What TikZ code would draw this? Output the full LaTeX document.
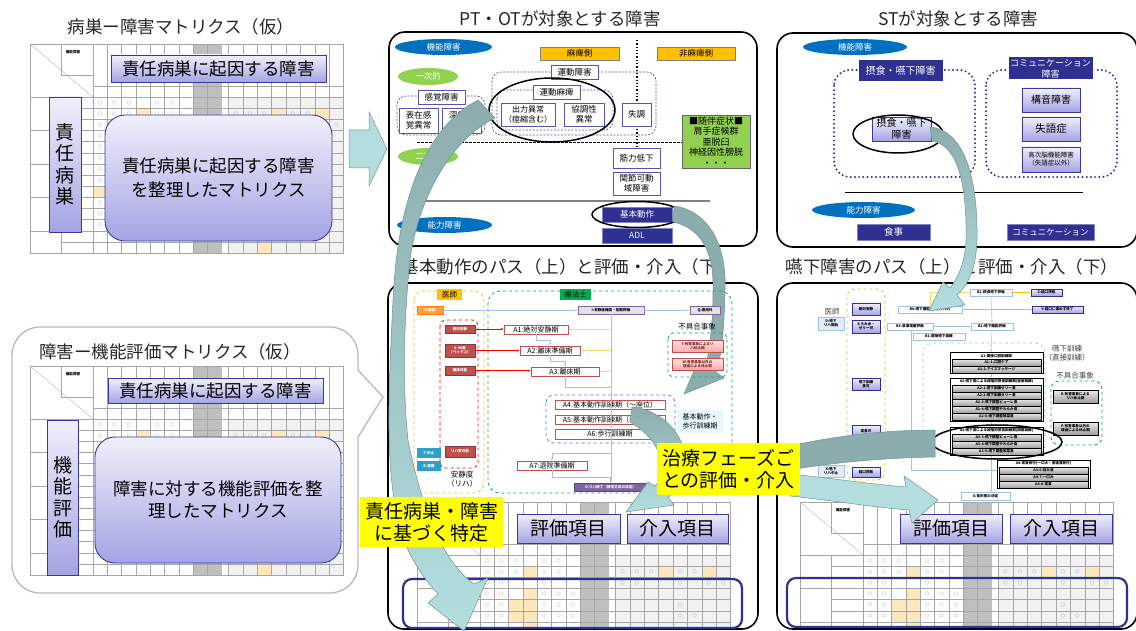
\documentclass[tikz,border=0pt]{standalone}
\usepackage{fontspec}
\setmainfont{Noto Sans CJK JP}
\usetikzlibrary{shapes.geometric,arrows.meta,calc}
\definecolor{navy}{HTML}{2E3192}
\definecolor{lavA}{HTML}{F0F0FC}
\definecolor{lavB}{HTML}{A4A4E4}
\definecolor{lavD}{HTML}{3A3A94}
\definecolor{tealA}{HTML}{B4DEDE}
\definecolor{tealB}{HTML}{8CADAD}
\definecolor{tealE}{HTML}{6F9494}
\definecolor{blueE}{HTML}{0070C0}
\definecolor{greenE}{HTML}{92D050}
\definecolor{orng}{HTML}{FFC000}
\definecolor{ylw}{HTML}{FFFF00}
\definecolor{dblue}{HTML}{5555AA}
\definecolor{lblue}{HTML}{9DC3E6}
\definecolor{redb}{HTML}{C0504D}
\definecolor{purp}{HTML}{8064A2}
\definecolor{cyanb}{HTML}{31A0C8}
\definecolor{pale}{HTML}{FCE8BC}
\definecolor{grn}{HTML}{00B050}
\newcommand\bxx[7]{\node[#1,minimum width={(#5-#3)*1pt},minimum height={(#6-#4)*1pt},inner sep=0pt] (#2) at ({(#3+#5)/2},{(#4+#6)/2}) {#7};}
\tikzset{
 fs/.style 2 args={font=\fontsize{#1}{#2}\selectfont},
 tinyt/.style={font=\fontsize{3.6}{4.2}\selectfont\bfseries},
 lavbox/.style={draw=lavD, line width=0.9pt, top color=lavA, bottom color=lavB, align=center},
 ttl/.style={fs={17.5}{20}, text=black!85},
 wbox/.style={draw=dblue, fill=white, line width=0.7pt, align=center, fs={8.5}{10}},
 ellb/.style={ellipse, fill=blueE, text=white, fs={8.5}{10}},
 ellg/.style={ellipse, fill=greenE, text=white, fs={8.5}{10}},
 navbox/.style={fill=navy, draw=navy!60, text=white, align=center, fs={8.5}{10}},
 orbox/.style={fill=orng, draw=black!50, fs={8.5}{10}},
 ring/.style={draw=black, line width=1.5pt},
 panel/.style={draw=black, line width=1.6pt, rounded corners=16},
 dgrp/.style={draw=dblue, line width=0.7pt, rounded corners=9, dash pattern=on 2pt off 1.5pt},
 dotgrp/.style={draw=navy, line width=2.2pt, dash pattern=on 0pt off 4.2pt, line cap=round, rounded corners=16},
 band/.style={draw=tealE, line width=0.5pt},
 ylab/.style={fill=ylw, align=center, fs={19}{22}},
 rbox/.style={fill=redb, draw=redb!70!black, text=white, tinyt, align=center},
 cbox/.style={fill=cyanb, text=white, tinyt},
 abox/.style={fill=white, draw=redb, line width=0.8pt, fs={7}{8}},
 ybox/.style={top color=red!10, bottom color=red!35, draw=redb, line width=0.6pt, tinyt, text=redb!60!black, align=center},
 pbox/.style={fill=purp!20, draw=purp, tinyt, line width=0.5pt},
 dbox/.style={top color=lavA, bottom color=lavB, draw=navy, line width=0.6pt, tinyt, align=center},
 wlb/.style={fill=white, draw=lblue, line width=0.5pt, tinyt, align=center},
 gbar/.style={top color=black!8, bottom color=black!38, draw=black, line width=0.5pt, tinyt},
 ghdr/.style={fill=white, tinyt},
 lbb/.style={fill=lblue!30, draw=lblue, tinyt, align=center},
 gl/.style={gray!70, line width=0.3pt},
 cn/.style={lblue, line width=0.5pt, -{Stealth[length=2.5pt]}},
}
% #1,#2 origin; #3 condition on \cc,\rr for circle marks; #4 = 1 to show header label
\newcommand\mtx[4]{%
\begin{scope}[shift={(#1,#2)}]
\fill[white] (0,0) rectangle (313.5,209);
\fill[black!5] (198.3,53) rectangle (313.5,209);
\foreach \cc/\rr in {3/1,12/1,15/1,0/8,2/4,2/5,3/3,3/4,3/5,3/6,11/13} {
  \pgfmathsetmacro\xl{\cc<9 ? 63+14.3*\cc : 198.3+14.4*(\cc-9)}
  \fill[pale] (\xl,{53+11.14*\rr}) rectangle ++(14.3,11.14);
}
\fill[black!25] (163.1,0) rectangle (191.7,209);
\draw[gl] (0,0) rectangle (313.5,209);
\draw[gl] (0,53) -- (313.5,53);
\draw[gl] (63,42) -- (313.5,42);
\draw[gl] (0,0) -- (63,53);
\draw[gl] (31,0) -- (31,31) -- (63,31);
\draw[gl] (31,53) -- (31,209);
\foreach \k in {0,...,8} {\draw[gl] ({63+14.3*\k},0) -- ({63+14.3*\k},209);}
\foreach \k in {0,...,8} {\draw[gl] ({198.3+14.4*\k},0) -- ({198.3+14.4*\k},209);}
\foreach \rr in {1,...,13} {\draw[gl] (31,{53+11.14*\rr}) -- (313.5,{53+11.14*\rr});}
\foreach \rr in {3,6,9,12} {\draw[gl] (0,{53+11.14*\rr}) -- (31,{53+11.14*\rr});}
\ifnum#4=1 \node[tinyt] at (43,8) {機能障害};\fi
\foreach \cc/\rr in {0/0,1/0,2/0,4/0,5/0,0/1,1/1,2/1,4/1,5/1,9/1,10/1,11/1,13/1,14/1,0/2,1/2,4/2,9/2,10/2,13/2,15/2,16/2,0/3,1/3,4/3,5/3,6/3,0/4,1/4,4/4,5/4,6/4,13/4,0/5,1/5,4/5,5/5,6/5,13/5,14/5,0/6,1/6,2/6,4/6,5/6,0/7,1/7,2/7,4/7,9/7,1/8,2/8,4/8,0/9,1/9,2/9,0/10,1/10,2/10,0/11,1/11,2/13,11/12} {
  \pgfmathtruncatemacro\ok{(#3) ? 1 : 0}
  \ifnum\ok=1
  \pgfmathsetmacro\xc{\cc<9 ? 63+14.3*\cc+7.15 : 198.3+14.4*(\cc-9)+7.2}
  \node[font=\fontsize{4}{4}\selectfont, text=black!55, inner sep=0pt] at (\xc,{53+11.14*\rr+5.57}) {○};
  \fi
}
\end{scope}}
\begin{document}
\begin{tikzpicture}[x=1pt,y=-1pt]
\useasboundingbox (0,0) rectangle (1136,631);
\fill[white] (0,0) rectangle (1136,631);

% ===== left top =====
\node[ttl] (T1) at (181,27) {病巣ー障害マトリクス（仮）};
\mtx{30}{44}{\rr<2 || \cc==0 || \cc==16}{1}
\bxx{lavbox,fs={17.5}{20}}{L1}{111}{55}{326}{82}{責任病巣に起因する障害}
\bxx{lavbox,fs={19}{21.5}}{L2}{49}{97}{81}{232}{責\\任\\病\\巣}
\bxx{lavbox,rounded corners=20,fs={17.5}{24}}{L3}{105}{115}{332}{241}{責任病巣に起因する障害\\を整理したマトリクス}
\draw[fill=tealA, draw=tealE, line width=0.5pt] (349,130) -- (369,130) -- (369,112) -- (387,149) -- (369,186) -- (369,168) -- (349,168) -- cycle;

% ===== left bottom bubble =====
\draw[gray!55, line width=1.3pt, rounded corners=28] (358,370) -- (358,327) -- (12,327) -- (12,593) -- (358,593) -- (358,437);
\draw[gray!55, line width=1.3pt] (358,370) -- (383,397) -- (358,437);
\node[ttl] (T2) at (170,352) {障害ー機能評価マトリクス（仮）};
\mtx{30}{366}{\rr<2 || \cc==0 || \cc==16}{1}
\bxx{lavbox,fs={17.5}{20}}{M1}{108}{378}{323}{403}{責任病巣に起因する障害}
\bxx{lavbox,fs={19}{21.5}}{M2}{47}{420}{78}{575}{機\\能\\評\\価}
\bxx{lavbox,rounded corners=20,fs={17.5}{22}}{M3}{95}{437}{341}{563}{障害に対する機能評価を整\\理したマトリクス}

% ===== PT/OT panel =====
\node[ttl] (T3) at (560,19) {PT・OTが対象とする障害};
\draw[panel] (389,32) rectangle (757,246);
\bxx{ellb}{P1}{395}{39}{492}{55}{機能障害}
\bxx{orbox}{P2}{540}{47}{619}{60}{麻痺側}
\bxx{orbox}{P3}{657}{47}{735}{60}{非麻痺側}
\draw[line width=1.3pt, dotted] (637,40) -- (637,148);
\bxx{ellg}{P4}{398}{68}{458}{85}{一次的}
\draw[dgrp] (492,72) rectangle (656,135);
\bxx{wbox}{P5}{551}{65}{598}{79}{運動障害}
\draw[dgrp] (497,90) rectangle (613,130);
\bxx{wbox}{P6}{533}{85}{580}{99}{運動麻痺}
\bxx{wbox,fs={8}{10}}{P7}{501}{103}{555}{126}{出力異常\\（痙縮含む）}
\bxx{wbox}{P8}{564}{103}{604}{126}{協調性\\異常}
\bxx{wbox}{P9}{622}{103}{651}{126}{失調}
\draw[dgrp] (397,96) rectangle (485,135);
\bxx{wbox}{P10}{418}{90}{465}{104}{感覚障害}
\bxx{wbox}{P11}{399}{108}{438}{133}{表在感\\覚異常}
\bxx{wbox}{P12}{442}{108}{481}{133}{深部感\\覚異常}
\draw[ring] (552,110) ellipse [x radius=63, y radius=32];
\draw[dash pattern=on 2.5pt off 1.5pt, line width=0.8pt] (417,142) -- (682,142);
\bxx{ellg}{P13}{398}{148}{458}{165}{二次的}
\bxx{wbox}{P14}{613}{148}{660}{168}{筋力低下}
\bxx{wbox}{P15}{613}{172}{660}{195}{関節可動\\域障害}
\bxx{fill=greenE, draw=black!60, line width=0.7pt, align=center, fs={9}{10.5}}{P16}{682}{115}{750}{168}{■随伴症状■\\肩手症候群\\亜脱臼\\神経因性膀胱\\・・・}
\draw[gray, line width=1.2pt] (415,201) -- (710,201);
\bxx{ellb}{P17}{397}{217}{492}{233}{能力障害}
\bxx{navbox}{P18}{602}{207}{672}{222}{基本動作}
\bxx{navbox}{P19}{602}{228}{672}{243}{ADL}
\draw[ring] (P18.center) ellipse [x radius=45, y radius=13];

% ===== ST panel =====
\node[ttl] (T4) at (958,19) {STが対象とする障害};
\draw[panel] (777,33) rectangle (1137,247);
\bxx{ellb}{S1}{803}{39}{907}{55}{機能障害}
\draw[dotgrp] (834,70) rectangle (975,177);
\draw[dotgrp] (986,70) rectangle (1117,177);
\bxx{navbox,fs={10}{12},draw=white,line width=1pt}{S2}{858}{60}{943}{82}{摂食・嚥下障害}
\bxx{lavbox,fs={10}{12},line width=0.7pt}{S3}{872}{117}{931}{141}{摂食・嚥下\\障害}
\draw[ring] (898,134) ellipse [x radius=45, y radius=19];
\bxx{navbox,fs={9}{11},draw=white,line width=1pt}{S4}{1008}{57}{1093}{80}{コミュニケーション\\障害}
\bxx{lavbox,fs={10}{12},line width=0.7pt}{S5}{1022}{88}{1080}{112}{構音障害}
\bxx{lavbox,fs={10.5}{12},line width=0.7pt}{S6}{1022}{117}{1080}{141}{失語症}
\bxx{lavbox,fs={6.5}{8},line width=0.7pt}{S7}{1022}{147}{1080}{172}{高次脳機能障害\\（失語症以外）}
\draw[line width=0.8pt] (845,192) -- (1083,192);
\bxx{ellb}{S8}{812}{202}{915}{218}{能力障害}
\bxx{navbox,fs={9.5}{11}}{S9}{857}{224}{930}{240}{食事}
\bxx{navbox,fs={8.5}{10}}{S10}{1007}{224}{1094}{240}{コミュニケーション}

% ===== middle bottom panel =====
\node[ttl] (T5) at (568,267) {基本動作のパス（上）と評価・介入（下）};
\begin{scope}
\clip[rounded corners=16] (388,283) rectangle (758,629);
\mtx{417}{502}{\rr<6}{0}
\end{scope}
\draw[panel] (388,283) rectangle (758,629);
\path[band, fill=tealB]
 (674,206) .. controls (705,210) and (727,240) .. (725,290)
 .. controls (724,330) and (722,355) .. (716,372)
 -- (724,378) -- (684,394) -- (696,366) -- (705,369)
 .. controls (710,350) and (713,320) .. (713,290)
 .. controls (714,250) and (700,228) .. (673,222) -- cycle;
\draw[orng, dashed, rounded corners=10, line width=0.8pt] (414,291) rectangle (484,493);
\bxx{fill=orng, fs={7.5}{9}}{B1}{437}{289}{462}{300}{医師}
\draw[grn, dashed, rounded corners=12, line width=0.8pt] (488,291) rectangle (732,493);
\bxx{fill=grn, fs={7.5}{9}}{B2}{560}{289}{591}{300}{療法士}
\bxx{fill=orange!75, draw=orange, text=white, tinyt}{Bs}{417}{306}{443}{314}{S:開始}
\bxx{pbox}{Bi}{578}{306}{644}{314}{I:安静度確認・初期評価}
\bxx{pbox}{Bq}{690}{306}{720}{314}{Q:適用外}
\draw[red, dashed, rounded corners=6, line width=0.8pt] (440,320) rectangle (478,468);
\bxx{rbox}{R1}{445}{325}{475}{333}{絶対安静}
\bxx{rbox}{R2}{445}{344}{475}{357}{0-90度\\（ベッド上）}
\bxx{rbox}{R3}{445}{366}{475}{375}{離床可能}
\bxx{rbox}{R4}{445}{446}{475}{457}{リハ室可能}
\bxx{cbox}{F1}{417}{448}{441}{458}{F:中止}
\bxx{cbox}{F2}{417}{461}{441}{471}{R:再開}
\node[fs={7.5}{9}, align=center] (Bl) at (462,479) {安静度\\（リハ）};
\draw[blue!60, dashed, rounded corners=8, line width=0.7pt] (546,395) rectangle (675,443);
\bxx{abox}{A1}{504}{325}{568}{334}{A1:絶対安静期}
\bxx{abox}{A2}{520}{346}{580}{355}{A2:離床準備期}
\bxx{abox}{A3}{531}{367}{599}{376}{A3:離床期}
\bxx{abox}{A4}{555}{400}{665}{409}{A4:基本動作訓練期（～座位）}
\bxx{abox}{A5}{555}{415}{665}{424}{A5:基本動作訓練期（～立位）}
\bxx{abox}{A6}{555}{429}{665}{439}{A6:歩行訓練期}
\bxx{abox}{A7}{517}{461}{587}{470}{A7:退院準備期}
\bxx{fill=cyan!10, fs={7}{9}, align=left}{Blab}{677}{410}{723}{433}{基本動作・\\歩行訓練期}
\bxx{fill=purp, draw=purp!70!black, text=white, tinyt}{Bo}{574}{483}{647}{491}{O:リハ終了（帰宅方法の決定）}
\node[fs={7.5}{9}] (Bf) at (697,327) {不具合事象};
\draw[grn, dashed, rounded corners=6, line width=0.8pt] (668,333) rectangle (727,377);
\bxx{ybox}{YY}{672}{340}{723}{352}{Y:有害事象によるリ\\ハ休止期}
\bxx{ybox}{WW}{672}{358}{723}{370}{W:有害事象以外の\\理由による休止期}
\draw[cn] (Bs) -- (Bi);
\draw[cn] (Bi) -- (Bq);
\draw[orng, line width=0.6pt, -{Stealth[length=3pt]}] (Bi.south) -- (Bi.south |- Bo.north);
\foreach \a in {A1,A2,A3} {\draw[orng!60, line width=0.6pt, -{Stealth[length=3pt]}] (Bi.south |- \a.east) -- (\a.east);}
\draw[red, line width=0.9pt, -{Stealth[length=3pt]}] (R1.east) -- (R1.east -| A1.west);
\draw[red, line width=0.9pt, -{Stealth[length=3pt]}] (R2.east) -- (R2.east -| A2.west);
\draw[red, line width=0.9pt, -{Stealth[length=3pt]}] (R3.east) -- (R3.east -| A3.west);
\draw[cn] (A1.south) -- ++(0,6) -| (A2.north);
\draw[cn] (A2.south) -- ++(0,6) -| (A3.north);
\draw[cn] (A3.south) |- (611,387);
\draw[cn] (611,443) -- (611,453) -| (A7.north);
\draw[cn] (A7.south) -- ++(0,7) -| (Bo.north);

% ===== right bottom panel =====
\node[ttl] (T6) at (952,267) {嚥下障害のパス（上）と評価・介入（下）};
\begin{scope}
\clip[rounded corners=16] (777,283) rectangle (1137,629);
\mtx{800}{502}{\rr<6}{1}
\end{scope}
\draw[panel] (777,283) rectangle (1137,629);
\draw[orng, dashed, rounded corners=8, line width=0.8pt] (847,289) rectangle (885,480);
\node[fs={7.5}{9}, text=black!70] (Rd) at (832,312) {医師};
\bxx{lbb}{RD}{818}{317}{844}{330}{D:嚥下\\リハ開始}
\bxx{lbb}{RX}{818}{465}{844}{477}{X:嚥下\\リハ中止}
\bxx{dbox}{Rd1}{852}{303}{880}{315}{絶対安静}
\bxx{dbox}{Rd2}{852}{320}{880}{333}{とろみ水・\\ゼリー可}
\bxx{dbox}{Rd3}{852}{378}{880}{390}{嚥下訓練\\食可}
\bxx{dbox}{Rd4}{852}{425}{880}{437}{常食可}
\bxx{dbox}{Rd5}{852}{467}{880}{477}{経口摂取}
\bxx{wlb}{Rb1}{970}{289}{1012}{296}{B1:摂食嚥下評価}
\bxx{dbox}{Rz}{1031}{289}{1062}{296}{Z:経口摂取}
\bxx{wlb}{Rb0}{898}{306}{962}{313}{B0:嚥下機能評価(VF/VE)}
\bxx{dbox}{Ry}{1032}{306}{1083}{313}{Y:経口に進めず終了}
\bxx{wlb}{Rb8}{887}{323}{933}{330}{B8:食事場面評価}
\bxx{wlb}{Rb2}{971}{323}{1013}{330}{B2:嚥下機能評価}
\bxx{wlb}{Rb9}{913}{333}{965}{340}{B1:間接嚥下訓練}
\draw[lblue, dashed, rounded corners=10, line width=0.6pt] (923,343) rectangle (1045,455);
\draw[orng, line width=0.4pt, -{Stealth[length=2pt]}] (Rb1.east) -- (Rz.west);
\draw[orng!60, line width=0.4pt, -{Stealth[length=2pt]}] (Rb1.west) -| (Rb0.north);
\draw[cn] (Rb0.east) -- (Ry.west);
\draw[cn] (Rb1.south) -- (Rb2.north);
\draw[cn] (Rb8.east) -- (Rb2.west);
\draw[cn] (Rb2.south) -- (991,352);
\draw[lblue, line width=0.5pt] (911,330) -- (911,470) -- (997,470);
\draw[lblue, line width=0.5pt] (911,440) -- (923,440);
\draw[cn] (991,373) -- (991,378);
\draw[cn] (991,421) -- (991,427);
\draw[cn] (991,455) -- (991,492);
\node[fs={7.5}{9}, align=center, text=black!75] (Rt) at (1067,353) {嚥下訓練\\（直接訓練）};
\node[fs={7.5}{9}, text=black!75] (Rf) at (1075,376) {不具合事象};
\draw[grn, dashed, rounded corners=8, line width=0.8pt] (1051,381) rectangle (1102,445);
\bxx{gbar,align=center}{RE}{1053}{390}{1098}{403}{E:有害事象による\\リハ休止期}
\bxx{gbar,align=center}{RF}{1053}{422}{1098}{435}{F:有害事象以外の\\理由による休止期}
\draw[black, line width=0.4pt] (950,352) rectangle (1043,373);
\bxx{ghdr}{G1}{951}{352.5}{1042}{359}{A1:間接口腔訓練期}
\bxx{gbar}{G11}{952}{359}{1041}{366}{A1-1:口腔ケア}
\bxx{gbar}{G12}{952}{366}{1041}{373}{A1-2:アイスマッサージ}
\draw[black, line width=0.4pt] (950,378) rectangle (1043,421);
\bxx{ghdr}{G2}{951}{378.5}{1042}{385}{A2:嚥下食による段階的摂食訓練期(直接訓練)}
\bxx{gbar}{G21}{952}{385}{1041}{392}{A2-1:嚥下訓練ゼリー食}
\bxx{gbar}{G22}{952}{392}{1041}{399}{A2-2:嚥下訓練ゼリー食}
\bxx{gbar}{G23}{952}{399}{1041}{406}{A2-3:嚥下調整ピューレ食}
\bxx{gbar}{G24}{952}{406}{1041}{413}{A2-4:嚥下調整やわらか食}
\bxx{gbar}{G25}{952}{413}{1041}{420}{A2-5:嚥下調整軟菜食}
\draw[black, line width=0.4pt] (950,427) rectangle (1043,455);
\bxx{ghdr}{G3}{951}{427.5}{1042}{434}{A3:嚥下食による段階的摂食訓練期(間接訓練)}
\bxx{gbar}{G31}{952}{434}{1041}{441}{A3-3:嚥下調整ピューレ食}
\bxx{gbar}{G32}{952}{441}{1041}{448}{A3-4:嚥下調整やわらか食}
\bxx{gbar}{G33}{952}{448}{1041}{455}{A3-5:嚥下調整軟菜食}
\draw[black, line width=0.4pt] (997,460) rectangle (1090,488);
\bxx{ghdr}{G4}{998}{460.5}{1089}{467}{A4:常食移行(一口大・普通食移行)}
\bxx{gbar}{G41}{999}{467}{1088}{474}{A4-6:刻み食}
\bxx{gbar}{G42}{999}{474}{1088}{481}{A4-7:一口大}
\bxx{gbar}{G43}{999}{481}{1088}{488}{A4-8:常食}
\draw[ring] (997,442) ellipse [x radius=65, y radius=17];
\bxx{wlb}{RG}{961}{492}{1010}{500}{G:食形態の決定}

% ===== highlights & item boxes =====
\draw[navy, line width=2.2pt, rounded corners=9] (403,579) rectangle (742,628);
\draw[navy, line width=2.2pt, rounded corners=9] (787,578) rectangle (1127,627);
\bxx{lavbox,fs={19}{22}}{E1}{517}{514}{620}{543}{評価項目}
\bxx{lavbox,fs={19}{22}}{E2}{627}{514}{728}{543}{介入項目}
\bxx{lavbox,fs={19}{22}}{E3}{900}{514}{1002}{543}{評価項目}
\bxx{lavbox,fs={19}{22}}{E4}{1010}{514}{1112}{543}{介入項目}

% ===== curved arrows =====
\path[band, top color=tealB, middle color=tealB, bottom color=tealA]
 (478,100) .. controls (430,125) and (398,190) .. (393,300)
 .. controls (388,400) and (385,470) .. (400,530)
 .. controls (410,560) and (425,580) .. (438,594)
 -- (428,603) -- (464,631) -- (488,578) -- (474,584)
 .. controls (440,560) and (420,500) .. (408,440)
 .. controls (402,380) and (404,320) .. (410,260)
 .. controls (418,200) and (450,140) .. (495,118) -- cycle;
\path[band, top color=tealB, bottom color=tealA]
 (632,407) .. controls (665,410) and (690,440) .. (685,470)
 .. controls (682,485) and (675,492) .. (668,497)
 -- (674,505) -- (626,512) -- (648,482) -- (655,486)
 .. controls (665,475) and (668,445) .. (630,422) -- cycle;
\path[band, top color=tealB, bottom color=tealA]
 (930,127) .. controls (965,130) and (978,180) .. (977,240)
 .. controls (976,270) and (968,285) .. (957,295)
 -- (965,305) -- (929,311) -- (943,282) -- (950,288)
 .. controls (960,275) and (965,260) .. (966,240)
 .. controls (967,185) and (958,145) .. (932,141) -- cycle;
\path[band, fill=tealB]
 (935,430) .. controls (880,430) and (830,437) .. (790,446)
 -- (790,470) .. controls (830,463) and (880,458) .. (935,457) -- cycle;
\path[band, fill=tealA]
 (790,474) .. controls (830,478) and (870,484) .. (906,487)
 -- (904,476) -- (938,500) -- (912,523) -- (909,510)
 .. controls (870,507) and (830,500) .. (790,496) -- cycle;

% ===== yellow labels =====
\bxx{ylab}{YL1}{360}{497}{503}{547}{責任病巣・障害\\に基づく特定}
\bxx{ylab}{YL2}{657}{443}{800}{495}{治療フェーズご\\との評価・介入}
\end{tikzpicture}
\end{document}
